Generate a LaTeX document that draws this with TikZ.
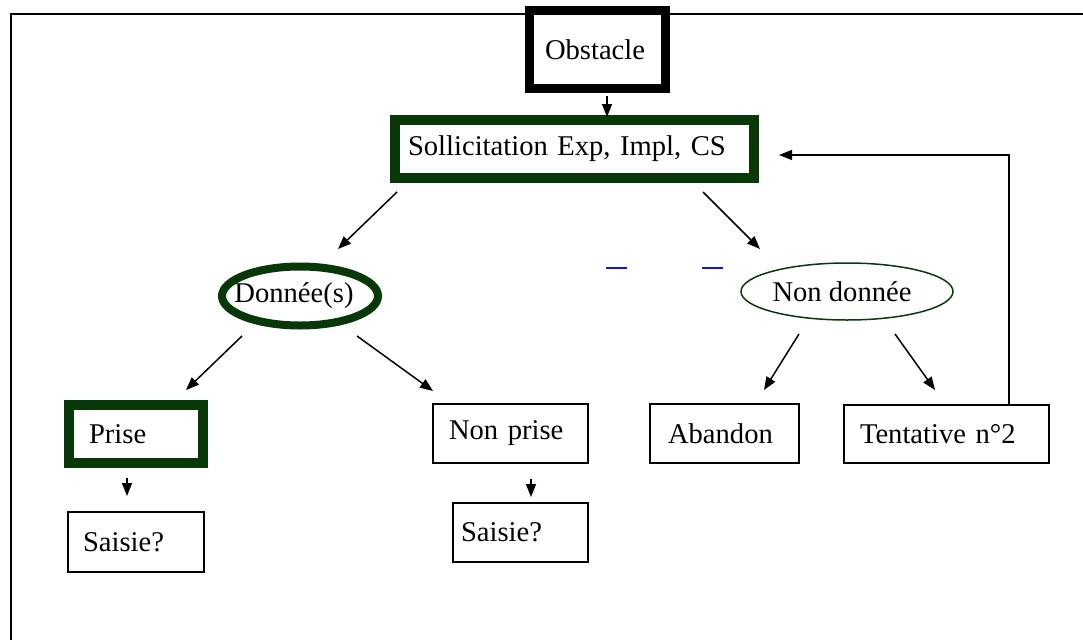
\documentclass[tikz,border=0pt]{standalone}
\usepackage{fontspec}
\setmainfont{Liberation Serif}
\usetikzlibrary{shapes.geometric,arrows.meta}
\definecolor{dg}{RGB}{8,56,8}
\definecolor{lk}{RGB}{20,20,235}
\tikzset{
  every node/.style={font=\fontsize{28.6}{34}\selectfont, inner ysep=0pt, outer sep=0pt},
  bx/.style={draw, rectangle, anchor=north west, align=left, line width=1.5pt},
  thickbx/.style={bx, draw=dg, line width=10pt},
  arr/.style={line width=1.5pt, -{Triangle[length=13pt,width=10pt]}},
}
\begin{document}
\begin{tikzpicture}[x=1pt,y=-1pt]
\useasboundingbox (0,0) rectangle (1083,640);
% frame
\draw[line width=2pt] (1083,14) -- (11,14) -- (11,640);
% boxes
\node[bx, line width=9pt, inner xsep=15.5pt, text width=105pt, minimum height=78pt] (obs) at (529.5,10.5) {Obstacle};
\node[thickbx, inner xsep=13pt, text width=333pt, minimum height=58pt] (sol) at (395,120) {Sollicitation Exp, Impl, CS};
\node[draw=dg, ellipse, line width=8pt, minimum width=156pt, minimum height=59pt, inner sep=0pt] (don) at (300,296) {\hspace*{-12pt}Donn\'ee(s)};
\node[draw=dg, ellipse, line width=1.5pt, minimum width=212pt, minimum height=57pt, inner sep=0pt] (nd) at (847,291.5) {\hspace*{-10pt}Non donn\'ee};
\node[thickbx, inner xsep=20pt, text width=94pt, minimum height=58pt] (pr) at (69,405) {Prise};
\node[bx, inner xsep=15pt, text width=106pt, minimum height=60pt] (s1) at (68,512) {Saisie?};
\node[bx, inner xsep=16pt, text width=123pt, minimum height=59pt] (np) at (433,404) {Non prise};
\node[bx, inner xsep=8pt, text width=119pt, minimum height=59pt] (s2) at (453,503) {Saisie?};
\node[bx, inner xsep=18pt, text width=113pt, minimum height=59pt] (ab) at (650,404) {Abandon};
\node[bx, inner xsep=16pt, text width=173pt, minimum height=58pt] (te) at (844,405) {Tentative n\textdegree2};
% arrow end points
\coordinate (o1) at (607,96);   \coordinate (o2) at (607,117);
\coordinate (l1) at (397,192);  \coordinate (l2) at (338,249);
\coordinate (r1) at (703,192);  \coordinate (r2) at (760,249);
\coordinate (dl1) at (242,336); \coordinate (dl2) at (186,390);
\coordinate (dr1) at (357,336); \coordinate (dr2) at (433,391);
\coordinate (nl1) at (799,334); \coordinate (nl2) at (764,390);
\coordinate (nr1) at (895,334); \coordinate (nr2) at (935,390);
\coordinate (p1) at (127,478);  \coordinate (p2) at (127,496);
\coordinate (q1) at (531,479);  \coordinate (q2) at (531,497);
\coordinate (t1) at (1009,155); \coordinate (t2) at (779,155);
% connectors
\draw[arr] (o1) -- (o2);
\draw[arr] (l1) -- (l2);
\draw[arr] (r1) -- (r2);
\draw[arr] (dl1) -- (dl2);
\draw[arr] (dr1) -- (dr2);
\draw[arr] (nl1) -- (nl2);
\draw[arr] (nr1) -- (nr2);
\draw[arr] (p1) -- (p2);
\draw[arr] (q1) -- (q2);
\draw[arr] (te.north -| t1) -- (t1) -- (t2);
% blue dashes
\draw[lk, line width=2pt] (606,268) -- (627,268);
\draw[lk, line width=2pt] (702,268) -- (723,268);
\end{tikzpicture}
\end{document}
